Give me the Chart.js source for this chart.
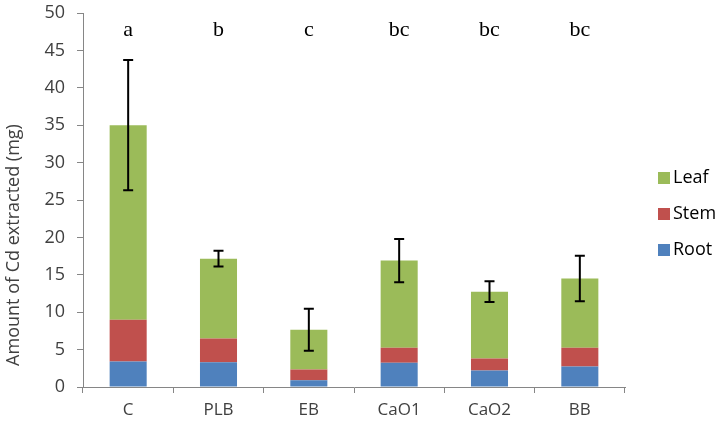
<!DOCTYPE html>
<html>
<head>
<meta charset="utf-8">
<script src="https://cdn.jsdelivr.net/npm/chart.js@4/dist/chart.umd.min.js"></script>
<style>
  html, body { margin: 0; padding: 0; background: #fff; }
  #wrap { width: 715px; height: 426px; position: relative; }
</style>
</head>
<body>
<div id="wrap"><canvas id="c" width="715" height="426"></canvas></div>
<script>
const categories = ['C', 'PLB', 'EB', 'CaO1', 'CaO2', 'BB'];
const rootValues = [3.4, 3.3, 0.9, 3.25, 2.2, 2.75];
const stemValues = [5.6, 3.2, 1.45, 2.0, 1.6, 2.5];
const leafValues = [26.0, 10.65, 5.3, 11.65, 8.95, 9.25];
const errorValues = [8.7, 1.05, 2.8, 2.9, 1.4, 3.05];
const letters = ['a', 'b', 'c', 'bc', 'bc', 'bc'];
const yTicks = [0, 5, 10, 15, 20, 25, 30, 35, 40, 45, 50];
const yTitle = 'Amount of Cd extracted (mg)';

const AXIS = '#868686';
const TEXT = '#404040';

const errorBarPlugin = {
  id: 'errorBars',
  afterDatasetsDraw(chart) {
    const ctx = chart.ctx;
    const xs = chart.scales.x, ys = chart.scales.y;
    ctx.save();
    ctx.strokeStyle = '#000';
    ctx.lineWidth = 2;
    categories.forEach((c, i) => {
      const total = chart.data.datasets.reduce((s, d) => s + d.data[i], 0);
      const x = xs.getPixelForValue(i);
      const yT = ys.getPixelForValue(total + errorValues[i]);
      const yB = ys.getPixelForValue(total - errorValues[i]);
      ctx.beginPath();
      ctx.moveTo(x, yT); ctx.lineTo(x, yB);
      ctx.moveTo(x - 5, yT); ctx.lineTo(x + 5, yT);
      ctx.moveTo(x - 5, yB); ctx.lineTo(x + 5, yB);
      ctx.stroke();
    });
    ctx.restore();
  }
};

const lettersPlugin = {
  id: 'sigLetters',
  afterDraw(chart, args, opts) {
    const ctx = chart.ctx;
    const xs = chart.scales.x, ys = chart.scales.y;
    ctx.save();
    ctx.fillStyle = '#000';
    ctx.font = '22px "Liberation Serif", "DejaVu Serif", serif';
    ctx.textAlign = 'center';
    ctx.textBaseline = 'middle';
    letters.forEach((t, i) => {
      ctx.fillText(t, xs.getPixelForValue(i), ys.getPixelForValue(opts.yValue));
    });
    ctx.restore();
  }
};

const yTitlePlugin = {
  id: 'yTitleCustom',
  afterDraw(chart, args, opts) {
    const ctx = chart.ctx;
    ctx.save();
    ctx.fillStyle = TEXT;
    ctx.font = '18px "Open Sans", sans-serif';
    ctx.textAlign = 'center';
    ctx.textBaseline = 'middle';
    ctx.translate(opts.x, opts.y);
    ctx.rotate(-Math.PI / 2);
    ctx.fillText(yTitle, 0, 0);
    ctx.restore();
  }
};

const legendPlugin = {
  id: 'customLegend',
  afterDraw(chart, args, opts) {
    const ctx = chart.ctx;
    const ds = chart.data.datasets.slice().reverse();
    ctx.save();
    ctx.font = '18px "Open Sans", sans-serif';
    ctx.textBaseline = 'middle';
    ctx.textAlign = 'left';
    ds.forEach((d, k) => {
      const y = opts.top + k * opts.spacing;
      ctx.fillStyle = d.backgroundColor;
      ctx.fillRect(opts.left, y - 6, 12, 12);
      ctx.fillStyle = '#000';
      ctx.fillText(d.label, opts.left + 15, y);
    });
    ctx.restore();
  }
};

new Chart(document.getElementById('c'), {
  type: 'bar',
  data: {
    labels: categories,
    datasets: [
      { label: 'Root', data: rootValues, backgroundColor: '#4F81BD' },
      { label: 'Stem', data: stemValues, backgroundColor: '#C0504D' },
      { label: 'Leaf', data: leafValues, backgroundColor: '#9BBB59' }
    ]
  },
  options: {
    responsive: false,
    animation: false,
    devicePixelRatio: 1,
    layout: { padding: { left: 0, top: 13, right: 90, bottom: 0 } },
    datasets: { bar: { categoryPercentage: 1.0, barPercentage: 0.41 } },
    plugins: {
      legend: { display: false },
      tooltip: { enabled: false },
      sigLetters: { yValue: 47.7 },
      yTitleCustom: { x: 14, y: 245 },
      customLegend: { left: 658, top: 178, spacing: 36 }
    },
    scales: {
      x: {
        stacked: true,
        grid: { display: true, drawOnChartArea: false, drawTicks: true, tickLength: 6, color: AXIS, offset: true },
        border: { color: AXIS, width: 1 },
        ticks: { color: TEXT, font: { family: 'Open Sans', size: 17 }, padding: 7 },
        afterFit(s) { s.height = 39; s.paddingLeft = 0; s.paddingRight = 0; }
      },
      y: {
        stacked: true,
        min: 0, max: 50,
        afterBuildTicks(s) { s.ticks = yTicks.map(v => ({ value: v })); },
        grid: { display: true, drawOnChartArea: false, drawTicks: true, tickLength: 6, color: AXIS },
        border: { color: AXIS, width: 1 },
        ticks: { color: TEXT, font: { family: 'Open Sans', size: 18 }, padding: 12 },
        afterFit(s) { s.width = 83; s.paddingTop = 0; s.paddingBottom = 0; }
      }
    }
  },
  plugins: [errorBarPlugin, lettersPlugin, yTitlePlugin, legendPlugin]
});
</script>
</body>
</html>
